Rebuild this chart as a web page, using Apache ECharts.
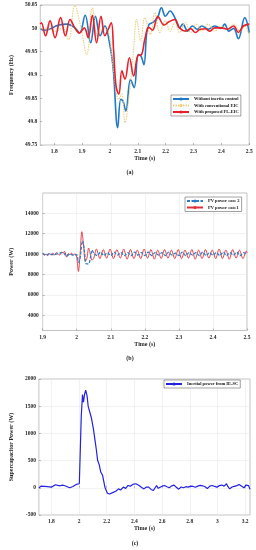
<!DOCTYPE html>
<html><head><meta charset="utf-8">
<script src="https://cdn.jsdelivr.net/npm/echarts@6/dist/echarts.min.js"></script>
<style>html,body{margin:0;padding:0;background:#fff}#c{width:256px;height:550px}</style>
</head><body><div id="c"></div>
<script>
// ---- Panel (a): frequency ----
const aBlueT = [1.75,1.76,1.783,1.811,1.846,1.874,1.891,1.911,1.931,1.948,1.965,1.982,1.994,2.011,2.028,2.039,2.047,2.057,2.074,2.087,2.102,2.112,2.122,2.132,2.14,2.153,2.171,2.185,2.199,2.216,2.233,2.25,2.262,2.279,2.296,2.313,2.33,2.353,2.376,2.399,2.412,2.427,2.444,2.461,2.484,2.5];
const aBlueV = [50.000,49.996,49.998,50.006,50.009,50.001,49.990,50.028,49.969,50.026,49.984,50.005,49.984,49.919,49.787,49.848,49.844,49.823,49.890,49.873,49.944,49.940,49.922,49.990,50.008,50.012,50.023,50.044,50.026,50.037,50.023,50.001,50.009,49.994,50.005,49.998,50.005,49.998,50.005,50.000,50.009,49.994,50.000,49.978,50.023,49.991];
const aYellowT = [1.75,1.783,1.806,1.829,1.851,1.874,1.897,1.917,1.937,1.956,1.977,1.994,2.011,2.032,2.043,2.054,2.07,2.085,2.096,2.111,2.125,2.145,2.161,2.179,2.199,2.216,2.233,2.25,2.271,2.29,2.31,2.33,2.353,2.376,2.399,2.422,2.444,2.467,2.484,2.5];
const aYellowV = [50.000,49.998,49.994,50.001,49.976,50.049,49.998,49.944,50.044,49.984,50.001,49.994,49.919,49.848,49.859,49.798,49.862,49.955,50.019,49.973,50.023,49.987,50.034,49.991,50.016,49.994,50.012,49.991,50.012,49.991,50.009,49.994,50.009,49.994,50.005,49.998,50.009,49.994,50.005,49.984];
const aRedT = [1.75,1.754,1.769,1.785,1.803,1.823,1.84,1.857,1.874,1.891,1.908,1.922,1.937,1.952,1.968,1.982,1.994,2.005,2.013,2.022,2.032,2.043,2.054,2.07,2.085,2.1,2.114,2.125,2.14,2.153,2.172,2.195,2.212,2.233,2.25,2.271,2.29,2.307,2.324,2.342,2.359,2.376,2.399,2.422,2.444,2.461,2.479,2.5];
const aRedV = [50.009,50.012,49.984,50.016,49.980,50.023,49.984,50.019,50.001,49.990,50.001,49.980,50.028,49.969,50.026,49.984,49.998,50.012,49.955,49.876,49.859,49.909,49.891,49.937,49.898,49.941,49.944,49.976,50.002,49.996,50.025,50.007,50.014,50.019,50.001,49.994,49.999,49.991,49.998,49.999,49.994,50.001,50.001,49.998,50.005,49.991,50.005,50.009];
const aXTicks = [1.8,1.9,2.0,2.1,2.2,2.3,2.4,2.5];

// ---- Panel (b): PV power ----
const bRedT = [1.9,1.905,1.91,1.915,1.92,1.925,1.93,1.935,1.94,1.945,1.95,1.955,1.96,1.965,1.97,1.975,1.98,1.985,1.99,1.995,2.0,2.005,2.01,2.015,2.02,2.025,2.03,2.035,2.04,2.045,2.05,2.058,2.068,2.078,2.088,2.098,2.108,2.118,2.128,2.138,2.148,2.158,2.168,2.178,2.188,2.198,2.208,2.218,2.228,2.238,2.248,2.258,2.268,2.278,2.288,2.298,2.308,2.318,2.328,2.338,2.348,2.358,2.368,2.378,2.388,2.398,2.408,2.418,2.428,2.438,2.448,2.458,2.468,2.478,2.488,2.498,2.5];
const bRedV = [10050,9900,10000,9850,10050,9900,10100,9900,10150,10050,9900,10200,10150,10250,9700,10050,9950,10100,9900,10050,9700,8300,10000,12200,11000,9300,9600,10600,10000,9400,9600,10500,9550,10450,9600,10500,9550,10450,9600,10500,9500,10450,9550,10400,9550,10500,9600,10450,9500,10400,9550,10450,9600,10400,9550,10450,9550,10400,9600,10450,9500,10400,9550,10450,9600,10400,9550,10500,9550,10400,9500,10450,9600,10400,9550,10300,10100];
const bBlueT = [1.9,1.91,1.92,1.93,1.94,1.95,1.96,1.97,1.98,1.99,2.0,2.005,2.01,2.017,2.022,2.028,2.035,2.04,2.045,2.05,2.06,2.07,2.08,2.09,2.1,2.11,2.12,2.13,2.14,2.15,2.16,2.17,2.18,2.19,2.2,2.21,2.22,2.23,2.24,2.25,2.26,2.27,2.28,2.29,2.3,2.31,2.32,2.33,2.34,2.35,2.36,2.37,2.38,2.39,2.4,2.41,2.42,2.43,2.44,2.45,2.46,2.47,2.48,2.49,2.5];
const bBlueV = [10100,9900,10050,9950,10000,10100,10150,9800,10000,9900,9950,9200,9600,11300,10500,9050,9050,9600,10400,10100,9850,10200,9850,10150,9850,10200,9900,10150,9850,10150,9850,10200,9900,10150,9850,10200,9850,10150,9900,10150,9850,10200,9900,10100,9850,10200,9850,10150,9900,10150,9850,10200,9850,10150,9900,10150,9850,10200,9850,10150,9900,10200,9850,10150,9900];
const bYTicks = [4000,6000,8000,10000,12000,14000];

// ---- Panel (c): supercapacitor power ----
const cT = [1.71,1.725,1.738,1.75,1.761,1.772,1.784,1.8,1.815,1.83,1.847,1.864,1.88,1.898,1.915,1.933,1.956,1.979,2.002,2.008,2.016,2.025,2.032,2.04,2.048,2.058,2.066,2.078,2.089,2.104,2.114,2.125,2.134,2.145,2.157,2.17,2.187,2.205,2.22,2.233,2.251,2.268,2.285,2.3,2.32,2.337,2.354,2.37,2.388,2.411,2.434,2.45,2.469,2.486,2.503,2.52,2.537,2.56,2.572,2.583,2.6,2.617,2.635,2.652,2.669,2.686,2.703,2.72,2.738,2.755,2.772,2.789,2.806,2.824,2.84,2.858,2.875,2.893,2.91,2.927,2.945,2.962,2.98,2.996,3.014,3.031,3.048,3.065,3.076,3.088,3.105,3.122,3.14,3.157,3.175,3.192,3.205,3.215,3.225,3.235];
const cV = [0,30,10,25,-5,20,25,12,35,56,45,37,50,37,20,0,25,62,74,74,1314,1716,1573,1720,1796,1690,1498,1470,1288,1080,900,700,507,430,290,230,11,-100,-115,-112,-80,-60,-20,-40,12,-10,43,30,62,74,43,10,-20,15,12,-30,-50,43,-10,-20,30,43,20,0,35,50,10,-25,15,0,20,12,30,25,10,31,45,37,20,-12,30,43,25,12,40,50,30,74,20,-20,15,25,40,62,30,0,50,25,40,-25];
const cXTicks = [1.8,2.0,2.2,2.4,2.6,2.8,3.0,3.2];

const pair = (t, v) => t.map((x, i) => [x, v[i]]);
const FONT = 'Liberation Serif';
const plain = v => String(+(+v).toFixed(2));
const lbl = (extra) => Object.assign({fontFamily: FONT, fontWeight: 'bold', fontSize: 5.5, color: '#262626', margin: 3, formatter: plain}, extra || {});
const nameStyle = {fontFamily: FONT, fontWeight: 'bold', fontSize: 6, color: '#262626'};
const gridStyle = {show: true, borderColor: '#9a9a9a', borderWidth: 0.6, backgroundColor: '#fff'};
const tick = (extra) => Object.assign({show: true, inside: true, length: 2, lineStyle: {color: '#777', width: 0.5}}, extra || {});
const split = {show: true, lineStyle: {color: '#e4e4e4', width: 0.5}};
const legendText = {fontFamily: FONT, fontWeight: 'bold', fontSize: 4.5, color: '#111'};

const option = {
  animation: false,
  backgroundColor: '#fff',
  grid: [
    Object.assign({left: 29.7, top: 5, width: 219.5, height: 140}, gridStyle),
    Object.assign({left: 28, top: 193, width: 219, height: 137.5}, gridStyle),
    Object.assign({left: 29.3, top: 379, width: 220.7, height: 136}, gridStyle)
  ],
  xAxis: [
    {type: 'value', gridIndex: 0, min: 1.75, max: 2.5, name: 'Time (s)', nameLocation: 'middle', nameGap: 10, nameTextStyle: nameStyle,
     axisLine: {show: false}, splitLine: {show: false},
     axisTick: tick({customValues: aXTicks}), axisLabel: lbl({customValues: aXTicks, margin: 4})},
    {type: 'value', gridIndex: 1, min: 1.9, max: 2.5, interval: 0.1, name: 'Time (s)', nameLocation: 'middle', nameGap: 10, nameTextStyle: nameStyle,
     axisLine: {show: false}, splitLine: split,
     axisTick: tick(), axisLabel: lbl({margin: 4})},
    {type: 'value', gridIndex: 2, min: 1.71, max: 3.235, name: 'Time (s)', nameLocation: 'middle', nameGap: 10, nameTextStyle: nameStyle,
     axisLine: {show: false}, splitLine: split,
     axisTick: tick({customValues: cXTicks}), axisLabel: lbl({customValues: cXTicks, margin: 4})}
  ],
  yAxis: [
    {type: 'value', gridIndex: 0, min: 49.75, max: 50.05, interval: 0.05, name: 'Frequency (Hz)', nameLocation: 'middle', nameGap: 17, nameTextStyle: nameStyle,
     axisLine: {show: false}, splitLine: {show: false}, axisTick: tick(), axisLabel: lbl()},
    {type: 'value', gridIndex: 1, min: 2500, max: 16000, name: 'Power (W)', nameLocation: 'middle', nameGap: 19, nameTextStyle: nameStyle,
     axisLine: {show: false}, splitLine: split, axisTick: tick({customValues: bYTicks}), axisLabel: lbl({customValues: bYTicks, margin: 4})},
    {type: 'value', gridIndex: 2, min: -500, max: 2000, interval: 500, name: 'Supercapacitor Power (W)', nameLocation: 'middle', nameGap: 17, nameTextStyle: nameStyle,
     axisLine: {show: false}, splitLine: split, axisTick: tick(), axisLabel: lbl()}
  ],
  legend: [
    {data: ['Without inertia control', 'With conventional EIC', 'With proposed FL-EIC'], left: 171, top: 95, orient: 'vertical',
     itemWidth: 16, itemHeight: 4, itemGap: 1.5, padding: [1.5, 2, 1.5, 1], textStyle: legendText,
     backgroundColor: '#fff', borderColor: '#444', borderWidth: 0.5, borderRadius: 0},
    {data: ['PV power case 2', 'PV power case1'], left: 185, top: 197, orient: 'vertical',
     itemWidth: 16, itemHeight: 4, itemGap: 1.5, padding: [1.5, 2, 1.5, 1], textStyle: legendText,
     backgroundColor: '#fff', borderColor: '#444', borderWidth: 0.5, borderRadius: 0},
    {data: ['Inertial power from IE-SC'], left: 164, top: 380, orient: 'vertical',
     itemWidth: 16, itemHeight: 4, itemGap: 1.5, padding: [1.5, 2, 1.5, 1], textStyle: legendText,
     backgroundColor: '#fff', borderColor: '#444', borderWidth: 0.5, borderRadius: 0}
  ],
  graphic: [
    {type: 'text', x: 130, y: 172, style: {text: '(a)', font: 'bold 6px "Liberation Serif"', fill: '#222', textAlign: 'center', textVerticalAlign: 'middle'}},
    {type: 'text', x: 130, y: 358, style: {text: '(b)', font: 'bold 6px "Liberation Serif"', fill: '#222', textAlign: 'center', textVerticalAlign: 'middle'}},
    {type: 'text', x: 135, y: 543, style: {text: '(c)', font: 'bold 6px "Liberation Serif"', fill: '#222', textAlign: 'center', textVerticalAlign: 'middle'}}
  ],
  series: [
    {name: 'Without inertia control', type: 'line', xAxisIndex: 0, yAxisIndex: 0, data: pair(aBlueT, aBlueV), symbol: 'none', smooth: 0.4,
     lineStyle: {color: '#1f78c8', width: 1.6}, itemStyle: {color: '#1f78c8'}},
    {name: 'With conventional EIC', type: 'line', xAxisIndex: 0, yAxisIndex: 0, data: pair(aYellowT, aYellowV), symbol: 'none', smooth: 0.4,
     lineStyle: {color: '#ebcf7e', width: 1.1, type: [1.5, 1]}, itemStyle: {color: '#ebcf7e'}},
    {name: 'With proposed FL-EIC', type: 'line', xAxisIndex: 0, yAxisIndex: 0, data: pair(aRedT, aRedV), symbol: 'none', smooth: 0.4,
     lineStyle: {color: '#e8202a', width: 1.6}, itemStyle: {color: '#e8202a'}},
    {name: 'PV power case1', type: 'line', xAxisIndex: 1, yAxisIndex: 1, data: pair(bRedT, bRedV), symbol: 'none', smooth: 0.3,
     lineStyle: {color: '#e0303a', width: 0.9}, itemStyle: {color: '#e0303a'}},
    {name: 'PV power case 2', type: 'line', xAxisIndex: 1, yAxisIndex: 1, data: pair(bBlueT, bBlueV), symbol: 'none', smooth: 0.3,
     lineStyle: {color: '#2a7cc4', width: 1.2, type: [3, 1.5]}, itemStyle: {color: '#2a7cc4'}},
    {name: 'Inertial power from IE-SC', type: 'line', xAxisIndex: 2, yAxisIndex: 2, data: pair(cT, cV), symbol: 'none', smooth: false,
     lineStyle: {color: '#2222e0', width: 1.2}, itemStyle: {color: '#2222e0'}}
  ]
};
const chart = echarts.init(document.getElementById('c'), null, {renderer: 'canvas'});
chart.setOption(option);
</script></body></html>
